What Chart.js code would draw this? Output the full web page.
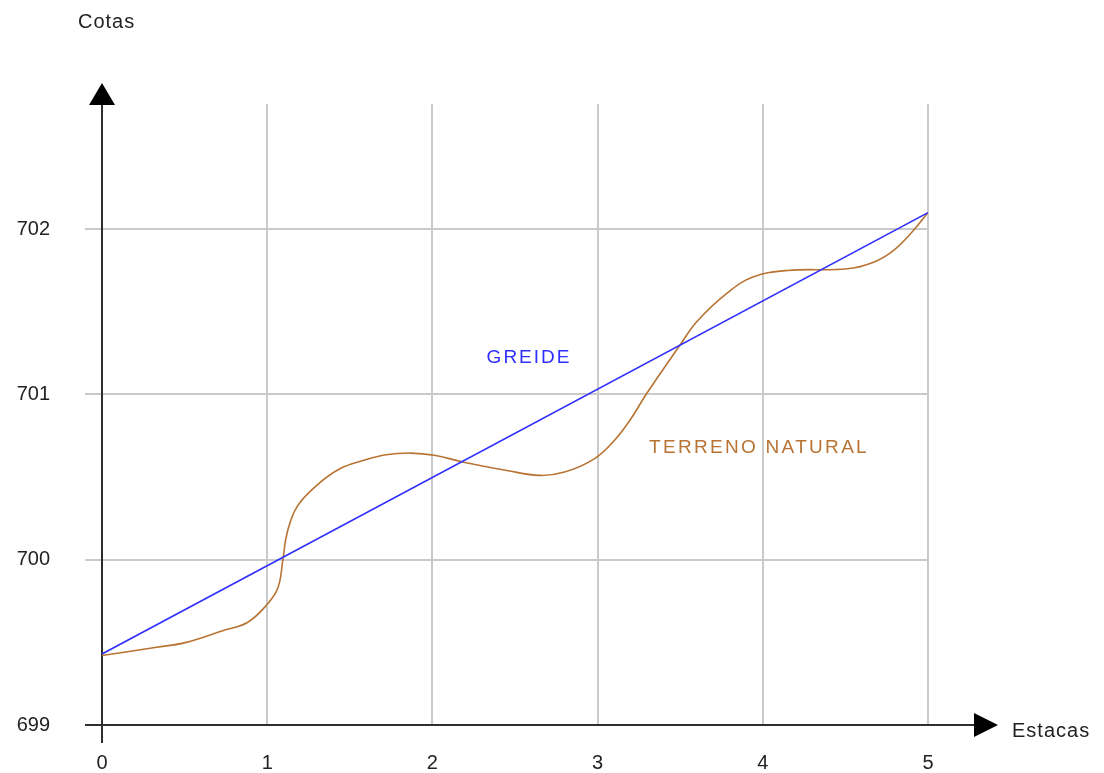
<!DOCTYPE html>
<html>
<head>
<meta charset="utf-8">
<script src="https://cdn.jsdelivr.net/npm/chart.js@4.4.1/dist/chart.umd.min.js"></script>
<style>
  html, body { margin: 0; padding: 0; background: #ffffff; }
  #wrap { width: 1104px; height: 773px; position: relative; }
</style>
</head>
<body>
<div id="wrap"><canvas id="c" width="1104" height="773"></canvas></div>
<script>
// Stations (estacas) and elevations (cotas)
const stations = [0, 0.33, 0.51, 0.73, 0.88, 1.0, 1.065, 1.095, 1.12, 1.18, 1.30, 1.44, 1.58, 1.72, 1.87, 2.02, 2.19, 2.45, 2.65, 2.80, 2.98, 3.10, 3.20, 3.30, 3.50, 3.60, 3.78, 3.94, 4.15, 4.51, 4.67, 4.79, 4.91, 5.0];
const terrainElev = [699.42, 699.47, 699.50, 699.57, 699.62, 699.73, 699.83, 700.0, 700.16, 700.32, 700.45, 700.55, 700.60, 700.635, 700.645, 700.63, 700.59, 700.54, 700.51, 700.53, 700.61, 700.72, 700.85, 701.01, 701.30, 701.44, 701.61, 701.71, 701.75, 701.76, 701.80, 701.87, 701.99, 702.10];
const gradeStations = [0, 5];
const gradeElev = [699.43, 702.10];
const xTicks = [0, 1, 2, 3, 4, 5];
const yTicks = [699, 700, 701, 702];

const FONT = '"Liberation Sans", Arial, sans-serif';
const GRID = '#cacaca';
const AXIS = '#2e2e2e';
const BLUE = '#2f2fff';
const BROWN = '#b87333';

// Axis lines with arrow heads, axis titles and line labels
const axesPlugin = {
  id: 'axesPlugin',
  beforeDatasetsDraw(chart) {
    const { ctx, scales: { x, y } } = chart;
    const x0 = x.getPixelForValue(0);
    const y0 = y.getPixelForValue(699);
    ctx.save();
    ctx.strokeStyle = AXIS;
    ctx.lineWidth = 2;
    ctx.beginPath();
    ctx.moveTo(x0, y0 + 18);
    ctx.lineTo(x0, 100);
    ctx.moveTo(x0 - 17, y0);
    ctx.lineTo(980, y0);
    ctx.stroke();
    ctx.fillStyle = '#000';
    // vertical arrow
    ctx.beginPath();
    ctx.moveTo(x0, 83);
    ctx.lineTo(x0 - 13, 105);
    ctx.lineTo(x0 + 13, 105);
    ctx.closePath();
    ctx.fill();
    // horizontal arrow
    ctx.beginPath();
    ctx.moveTo(998, y0);
    ctx.lineTo(974, y0 - 12);
    ctx.lineTo(974, y0 + 12);
    ctx.closePath();
    ctx.fill();
    ctx.restore();
  },
  afterDraw(chart) {
    const { ctx, scales: { x, y } } = chart;
    ctx.save();
    ctx.textBaseline = 'middle';
    ctx.font = '20px ' + FONT;
    ctx.letterSpacing = '1px';
    ctx.fillStyle = '#222';
    ctx.textAlign = 'left';
    ctx.fillText('Cotas', 78, 22);
    ctx.fillText('Estacas', 1012, 731);
    ctx.textAlign = 'center';
    ctx.font = '19px ' + FONT;
    ctx.letterSpacing = '2px';
    ctx.fillStyle = BLUE;
    ctx.fillText('GREIDE', x.getPixelForValue(2.585), y.getPixelForValue(701.22));
    ctx.letterSpacing = '2.3px';
    ctx.fillStyle = BROWN;
    ctx.fillText('TERRENO NATURAL', x.getPixelForValue(3.977), y.getPixelForValue(700.676));
    ctx.restore();
  }
};

new Chart(document.getElementById('c'), {
  type: 'line',
  data: {
    datasets: [
      {
        label: 'Greide',
        data: gradeStations.map((s, i) => ({ x: s, y: gradeElev[i] })),
        borderColor: BLUE,
        borderWidth: 1.6,
        pointRadius: 0,
        tension: 0
      },
      {
        label: 'Terreno natural',
        data: stations.map((s, i) => ({ x: s, y: terrainElev[i] })),
        borderColor: BROWN,
        borderWidth: 1.6,
        pointRadius: 0,
        tension: 0.4
      }
    ]
  },
  options: {
    responsive: false,
    animation: false,
    layout: { padding: { top: 104, right: 176, left: 0, bottom: 0 } },
    plugins: { legend: { display: false }, tooltip: { enabled: false } },
    scales: {
      x: {
        type: 'linear',
        min: 0,
        max: 5,
        afterBuildTicks(scale) { scale.ticks = xTicks.map(v => ({ value: v })); },
        afterFit(scale) { scale.height = 48; },
        grid: { color: GRID, lineWidth: 2, drawTicks: false },
        border: { display: false },
        ticks: { color: '#222', font: { family: FONT, size: 20 }, padding: 26, maxRotation: 0 }
      },
      y: {
        type: 'linear',
        min: 699,
        max: 702.757,
        afterBuildTicks(scale) { scale.ticks = yTicks.map(v => ({ value: v })); },
        afterFit(scale) { scale.width = 102; },
        grid: { color: GRID, lineWidth: 2, drawTicks: true, tickLength: 17, tickColor: GRID },
        border: { display: false },
        ticks: { color: '#222', font: { family: FONT, size: 20 }, padding: 35 }
      }
    }
  },
  plugins: [axesPlugin]
});
</script>
</body>
</html>
